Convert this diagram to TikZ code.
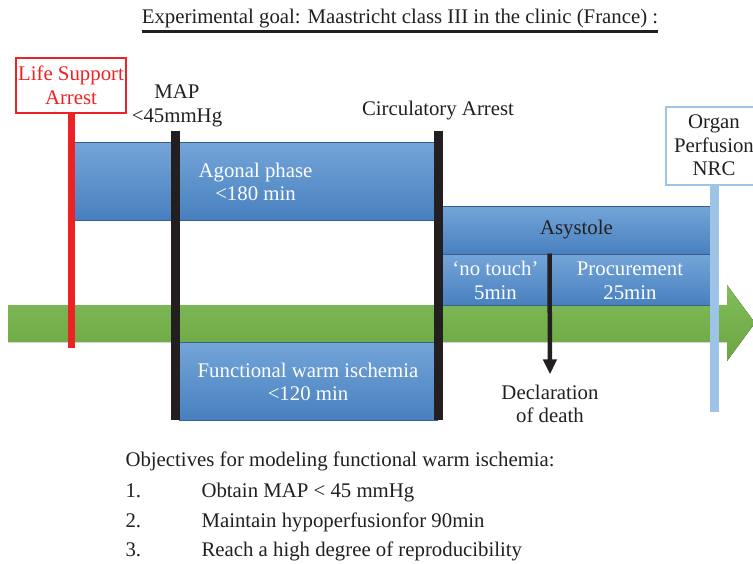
\documentclass[tikz,border=0pt]{standalone}
\usepackage{fontspec}
\setmainfont{Liberation Serif}
\usetikzlibrary{arrows.meta,positioning}
\definecolor{lsred}{RGB}{237,34,36}
\definecolor{boxtop}{RGB}{116,165,216}
\definecolor{boxbot}{RGB}{72,128,191}
\definecolor{greentop}{RGB}{130,188,92}
\definecolor{greenbot}{RGB}{106,166,64}
\definecolor{nrcblue}{RGB}{157,195,230}
\definecolor{ink}{RGB}{35,31,32}

\begin{document}
\begin{tikzpicture}[x=1pt,y=-1pt,font=\fontsize{20.8}{23.5}\selectfont,
  phase/.style={rectangle, top color=boxtop, bottom color=boxbot, draw=boxbot!75!black, line width=1pt, text=white, align=center, inner sep=0pt},
  lbl/.style={text=ink, align=center},
  bar/.style={draw=ink, line width=8.5pt}]
\useasboundingbox (0,0) rectangle (753,563);

\node[lbl, inner sep=0pt] (title) at (400,19) {Experimental goal: Maastricht class III in the clinic (France) :};
\draw[ink, line width=3pt] ([yshift=-3pt]title.south west) -- ([yshift=-3pt]title.south east);

\fill[top color=greentop, bottom color=greenbot] (8,305) -- (727,305) -- (727,285) -- (755,323) -- (727,361) -- (727,342) -- (8,342) -- cycle;

\node[phase, minimum width=363pt, minimum height=78pt] (agonal) at (255.5,181) {\strut Agonal phase\\<180 min};
\node[phase, minimum width=269pt, minimum height=48pt, text=ink] (asystole) at (576.5,230) {\strut Asystole};
\node[phase, minimum width=107pt, minimum height=51pt] (notouch) at (495.5,279.5) {\strut`no touch'\\5min};
\node[phase, minimum width=162pt, minimum height=51pt] (procure) at (630,279.5) {\strut Procurement\\25min};
\node[phase, minimum width=258pt, minimum height=78pt] (functional) at (308,381) {\strut Functional warm ischemia\\<120 min};

\node[lbl, draw=lsred, text=lsred, line width=1.5pt, minimum width=110pt, minimum height=55pt, inner sep=0pt] (lsa) at (71,85.5) {Life Support\\Arrest};
\draw[lsred, line width=7pt] (lsa.south) -- ++(0,234);

\node[lbl] (map) at (177,106) {MAP\\<45mmHg};
\coordinate (maptop) at (175.5,131);
\coordinate (mapbot) at (175.5,420);
\draw[bar] (maptop) -- (mapbot);

\node[lbl, anchor=base] (ca) at (438,115) {Circulatory Arrest};
\coordinate (catop) at (438.5,131);
\coordinate (cabot) at (438.5,420);
\draw[bar] (catop) -- (cabot);

\node[lbl, draw=nrcblue, line width=2pt, minimum width=96pt, minimum height=78pt, inner sep=0pt] (nrc) at (714,145.5) {Organ\\Perfusion\\NRC};
\draw[nrcblue, line width=9pt] (nrc.south) -- ++(0,226);

\node[lbl] (death) at (550,404) {Declaration\\of death};
\draw[ink, line width=4.5pt, -{Triangle[length=15pt,width=13pt]}] (notouch.north east) -- ([yshift=7pt]death.north);

\node[lbl, anchor=base west] (obj) at (122,466) {Objectives for modeling functional warm ischemia:};
\foreach \txt [count=\i] in {Obtain MAP < 45 mmHg,Maintain hypoperfusionfor 90min,Reach a high degree of reproducibility}{
  \node[lbl, anchor=base west] (num\i) at (122,468+29.5*\i) {\i.};
  \node[lbl, anchor=base west] (item\i) at (198,468+29.5*\i) {\txt};
}
\end{tikzpicture}
\end{document}
